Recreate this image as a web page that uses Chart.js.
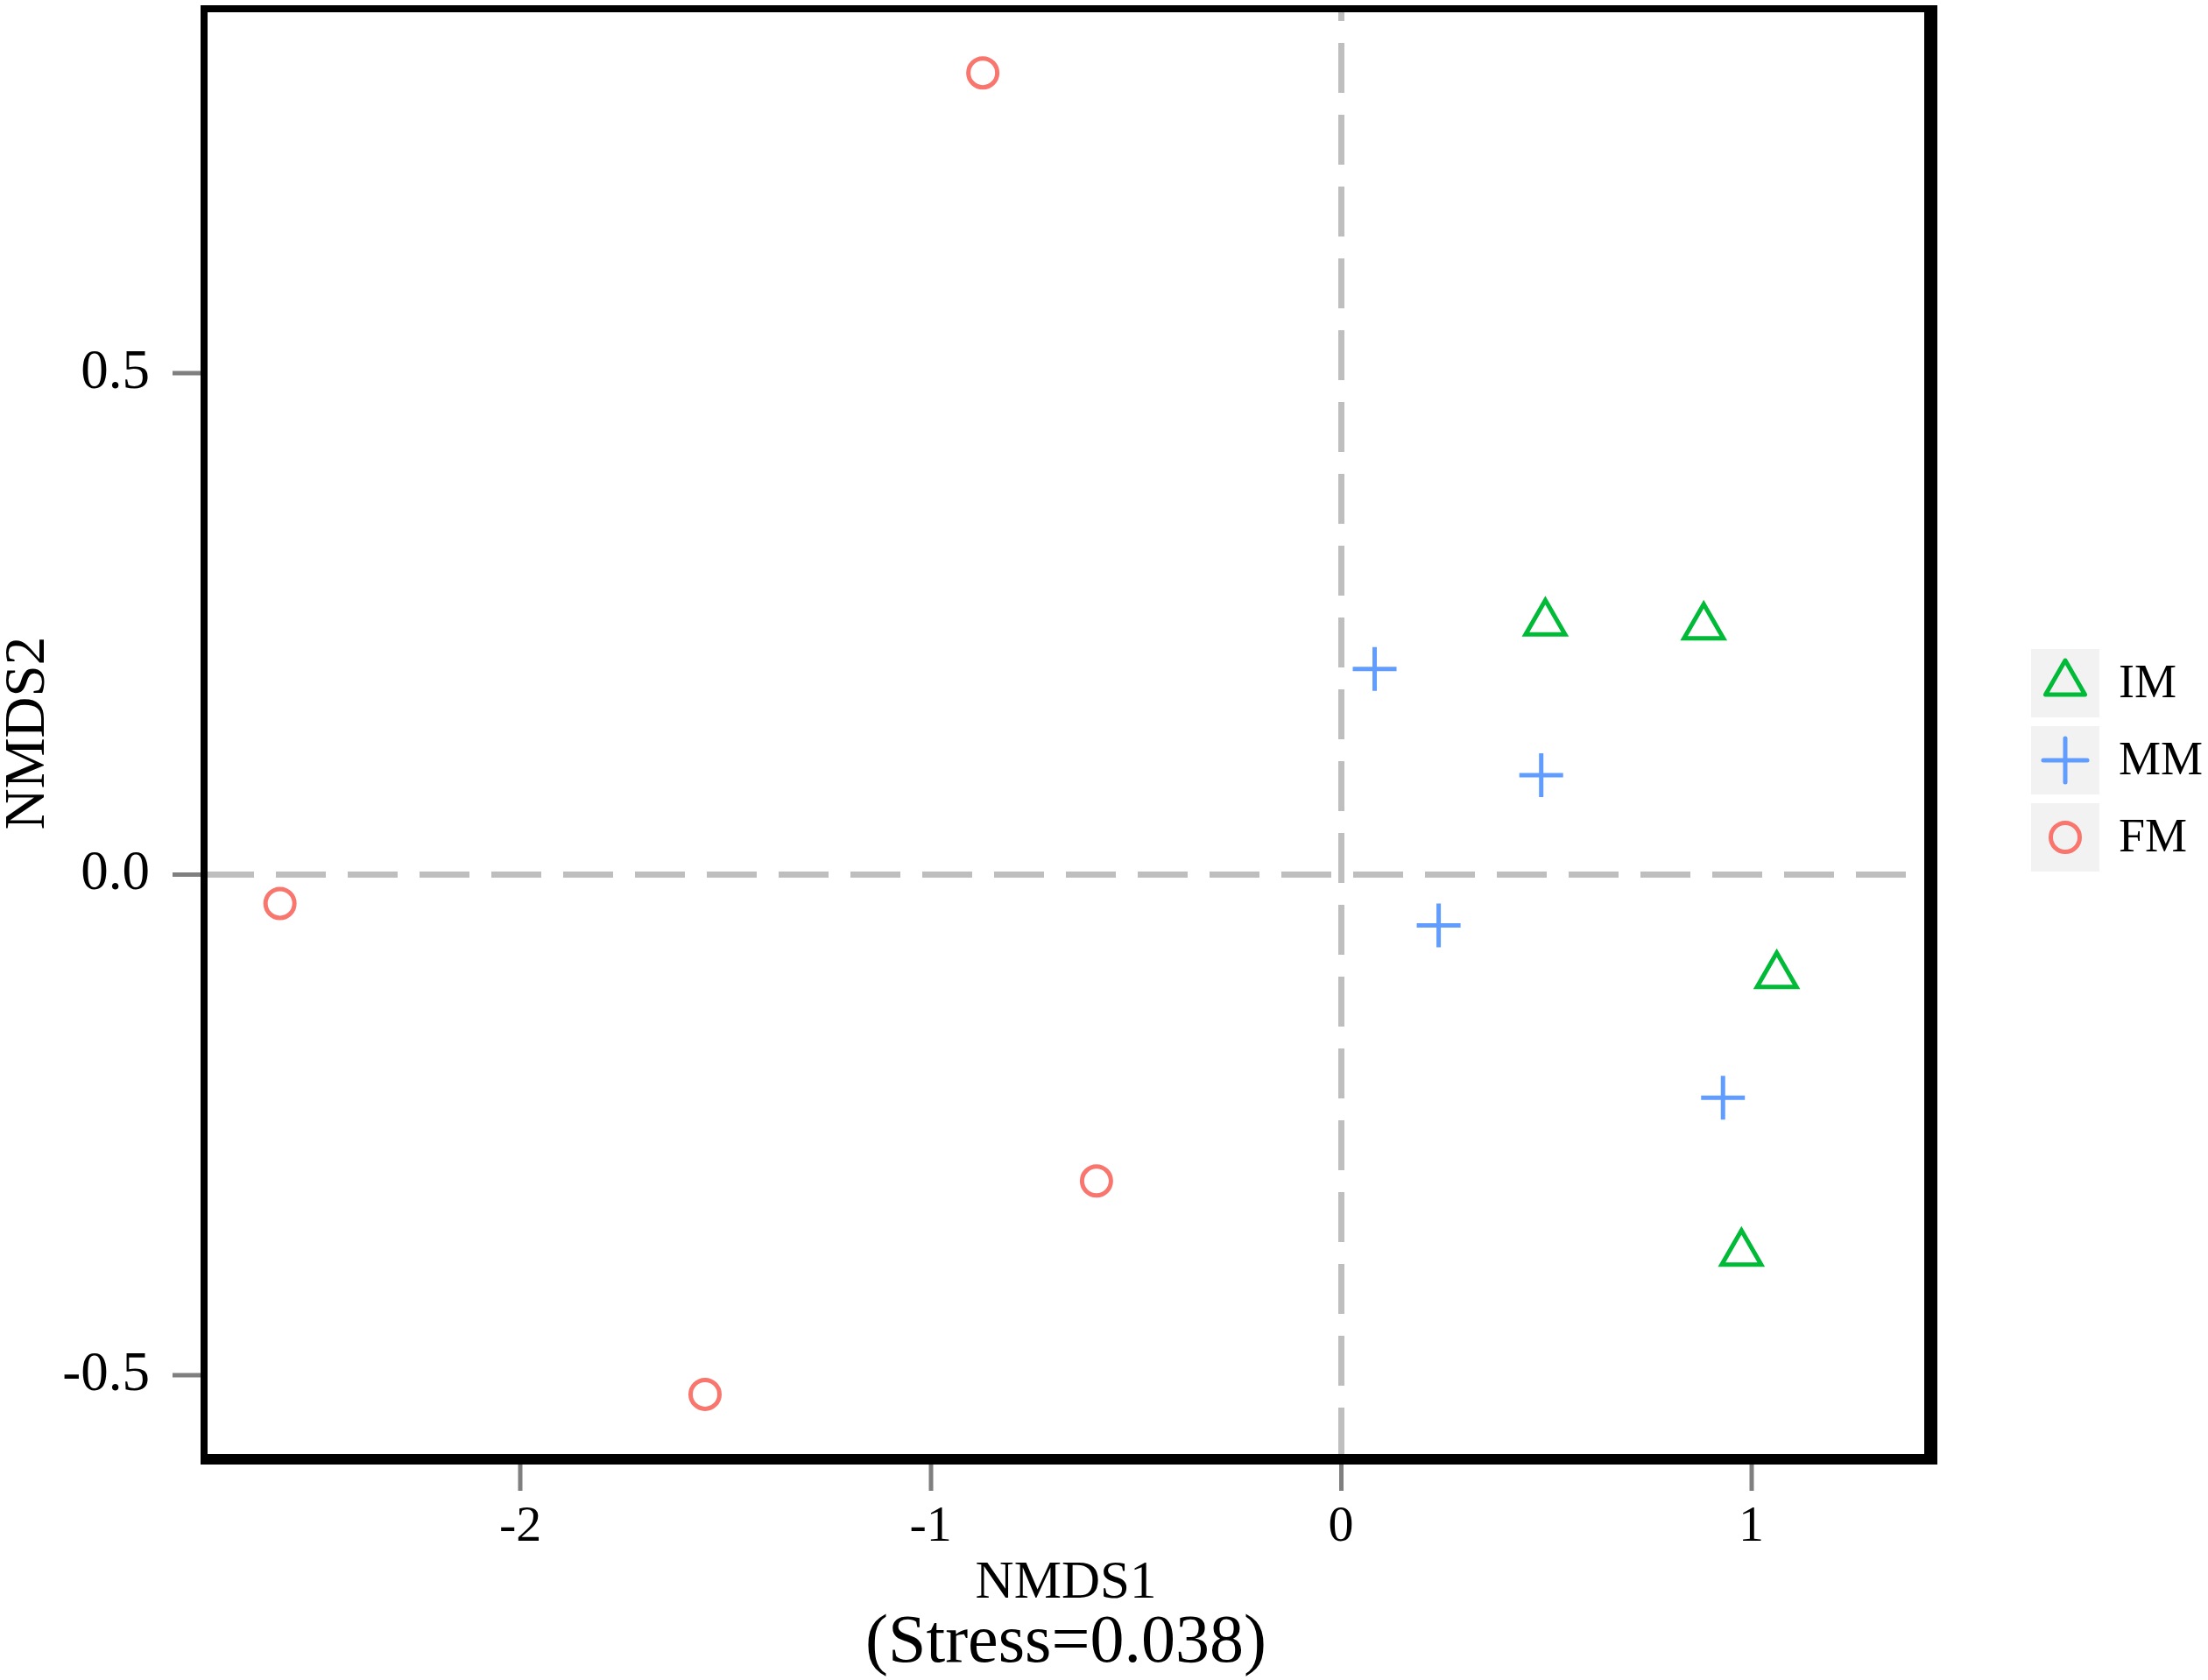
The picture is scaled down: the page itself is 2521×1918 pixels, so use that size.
<!DOCTYPE html>
<html>
<head>
<meta charset="utf-8">
<script src="https://cdn.jsdelivr.net/npm/chart.js@4/dist/chart.umd.min.js"></script>
<style>
  html, body { margin: 0; padding: 0; background: #ffffff; }
  #wrap { width: 2521px; height: 1918px; }
</style>
</head>
<body>
<div id="wrap"><canvas id="c" width="2521" height="1918"></canvas></div>
<script>
// ---- data ----
const groups = ['IM', 'MM', 'FM'];
const imX = [0.498, 0.884, 1.062, 0.976];
const imY = [0.251, 0.247, -0.101, -0.378];
const mmX = [0.082, 0.488, 0.238, 0.931];
const mmY = [0.205, 0.099, -0.051, -0.223];
const fmX = [-0.873, -2.586, -0.596, -1.550];
const fmY = [0.800, -0.029, -0.306, -0.519];
const xTicks = [-2, -1, 0, 1];
const xTickLabels = ['-2', '-1', '0', '1'];
const yTicks = [-0.5, 0, 0.5];
const yTickLabels = ['-0.5', '0.0', '0.5'];
const xTitle = 'NMDS1';
const yTitle = 'NMDS2';
const stressText = '(Stress=0.038)';

const colors = ['#00BA38', '#619CFF', '#F8766D'];
const styles = ['triangle', 'cross', 'circle'];
const radii = [26, 25, 16.5];
const FONT = "'Liberation Serif', 'Times New Roman', serif";

function pts(xs, ys) { return xs.map((x, i) => ({ x: x, y: ys[i] })); }
const series = [pts(imX, imY), pts(mmX, mmY), pts(fmX, fmY)];

const datasets = groups.map((g, i) => ({
  label: g,
  data: series[i],
  pointStyle: styles[i],
  pointRadius: radii[i],
  pointHoverRadius: radii[i],
  borderColor: colors[i],
  backgroundColor: 'rgba(0,0,0,0)',
  pointBorderWidth: 5,
  borderWidth: 5,
  showLine: false
}));

const framePlugin = {
  id: 'frame',
  afterDraw(chart) {
    const ca = chart.chartArea;
    const ctx = chart.ctx;
    ctx.save();
    ctx.fillStyle = '#000000';
    const L = ca.left - 4, T = ca.top - 4;
    const Ro = ca.right + 11, Ri = ca.right - 4;
    const Bo = ca.bottom + 8, Bi = ca.bottom - 4;
    ctx.fillRect(L, T, Ro - L, 8);
    ctx.fillRect(L, T, 8, Bo - T);
    ctx.fillRect(Ri, T, Ro - Ri, Bo - T);
    ctx.fillRect(L, Bi, Ro - L, Bo - Bi);
    ctx.restore();
  }
};

const legendPlugin = {
  id: 'customLegend',
  afterDraw(chart) {
    const ca = chart.chartArea;
    const ctx = chart.ctx;
    const boxX = ca.right + 118;
    const box = 78, step = 88, top0 = 741;
    ctx.save();
    chart.data.datasets.forEach((ds, i) => {
      const by = top0 + i * step;
      ctx.fillStyle = '#F2F2F2';
      ctx.fillRect(boxX, by, box, box);
      const cx = boxX + box / 2, cy = by + box / 2;
      ctx.strokeStyle = ds.borderColor;
      ctx.lineWidth = 5;
      ctx.lineJoin = 'round';
      ctx.lineCap = 'round';
      ctx.beginPath();
      if (ds.pointStyle === 'triangle') {
        const r = 26;
        for (let k = 0; k < 3; k++) {
          const a = -Math.PI / 2 + k * 2 * Math.PI / 3;
          const px = cx + r * Math.cos(a), py = cy + r * Math.sin(a);
          if (k === 0) ctx.moveTo(px, py); else ctx.lineTo(px, py);
        }
        ctx.closePath();
      } else if (ds.pointStyle === 'cross') {
        const r = 25;
        ctx.moveTo(cx - r, cy); ctx.lineTo(cx + r, cy);
        ctx.moveTo(cx, cy - r); ctx.lineTo(cx, cy + r);
      } else {
        ctx.arc(cx, cy, 16.5, 0, Math.PI * 2);
      }
      ctx.stroke();
      ctx.fillStyle = '#000000';
      ctx.font = '54px ' + FONT;
      ctx.textAlign = 'left';
      ctx.textBaseline = 'middle';
      ctx.fillText(ds.label, boxX + box + 22, cy + 2);
    });
    ctx.restore();
  }
};

function zeroPad(scale) {
  scale.paddingTop = 0; scale.paddingBottom = 0;
  scale.paddingLeft = 0; scale.paddingRight = 0;
}

new Chart(document.getElementById('c'), {
  type: 'scatter',
  data: { datasets: datasets },
  options: {
    responsive: false,
    devicePixelRatio: 1,
    animation: false,
    events: [],
    layout: { autoPadding: false, padding: { top: 10, right: 320, left: 0, bottom: 0 } },
    plugins: {
      legend: { display: false },
      tooltip: { enabled: false },
      title: {
        display: true,
        text: stressText,
        position: 'bottom',
        fullSize: false,
        color: '#000000',
        font: { family: FONT, size: 78, weight: 'normal', lineHeight: 1 },
        padding: { top: 0, bottom: 2 }
      }
    },
    scales: {
      x: {
        type: 'linear',
        position: 'bottom',
        min: -2.771,
        max: 1.430,
        afterBuildTicks(scale) { scale.ticks = xTicks.map(v => ({ value: v })); },
        afterFit(scale) { scale.height = 174; zeroPad(scale); },
        ticks: {
          callback: (v, i) => xTickLabels[i],
          color: '#000000',
          padding: 7,
          maxRotation: 0,
          font: { family: FONT, size: 58 }
        },
        grid: {
          drawOnChartArea: true,
          drawTicks: true,
          tickLength: 38,
          tickWidth: 5,
          tickColor: '#7F7F7F',
          color: (c) => (c.tick && c.tick.value === 0) ? '#BEBEBE' : 'rgba(0,0,0,0)',
          lineWidth: (c) => (c.tick && c.tick.value === 0) ? 7 : 0
        },
        border: { display: false, dash: [57, 25], dashOffset: 43 },
        title: {
          display: true,
          text: xTitle,
          color: '#000000',
          font: { family: FONT, size: 61, lineHeight: 1 },
          padding: { top: 0, bottom: 0 }
        }
      },
      y: {
        type: 'linear',
        position: 'left',
        min: -0.582,
        max: 0.864,
        afterBuildTicks(scale) { scale.ticks = yTicks.map(v => ({ value: v })); },
        afterFit(scale) { scale.width = 233; zeroPad(scale); },
        ticks: {
          callback: (v, i) => yTickLabels[i],
          color: '#000000',
          padding: 26,
          font: { family: FONT, size: 63 }
        },
        grid: {
          drawOnChartArea: true,
          drawTicks: true,
          tickLength: 36,
          tickWidth: 5,
          tickColor: '#7F7F7F',
          color: (c) => (c.tick && c.tick.value === 0) ? '#BEBEBE' : 'rgba(0,0,0,0)',
          lineWidth: (c) => (c.tick && c.tick.value === 0) ? 7 : 0
        },
        border: { display: false, dash: [57, 25], dashOffset: 0 },
        title: {
          display: true,
          text: yTitle,
          color: '#000000',
          font: { family: FONT, size: 65, lineHeight: 1 },
          padding: { top: 0, bottom: 0 }
        }
      }
    }
  },
  plugins: [framePlugin, legendPlugin]
});
</script>
</body>
</html>
